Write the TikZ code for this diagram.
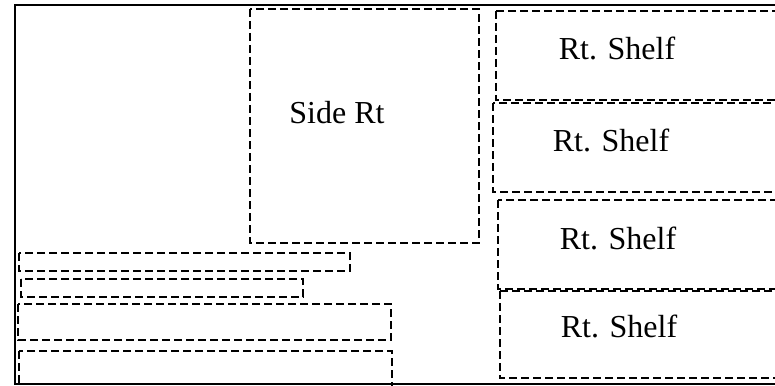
\documentclass[tikz,border=0pt]{standalone}
\usepackage{fontspec}
\setmainfont{Liberation Serif}
\usepackage{tikz}
\tikzset{%
  sheet/.style = {draw,solid,line width=2pt},
  part/.style = {draw,line width=1.8pt,dash pattern=on 8pt off 4pt},
  lbl/.style = {inner sep=0pt,font=\fontsize{32}{36}\selectfont}
}
\begin{document}
\begin{tikzpicture}[x=1pt,y=-1pt]
                            \clip (0,0) rectangle (775,385);
                            \fill[white] (0,0) rectangle (775,385);
                            % sheet
                            \draw[sheet] (15,5) rectangle (795,384);
                            % side
                            \draw[part] (250,9) rectangle (479,243);
                            \node[lbl] (side) at (337,113) {Side Rt};
                            % shelves
                            \draw[part] (496,11) rectangle (795,100);
                            \node[lbl] (shelfa) at (617,48) {Rt. Shelf};
                            \draw[part] (493,103) rectangle (795,192);
                            \node[lbl] (shelfb) at (611,140) {Rt. Shelf};
                            \draw[part] (498,200) rectangle (795,289);
                            \node[lbl] (shelfc) at (618,238) {Rt. Shelf};
                            \draw[part] (500,291) rectangle (795,378);
                            \node[lbl] (shelfd) at (619,326) {Rt. Shelf};
                            % strips
                            \draw[part] (19,253) rectangle (350,271);
                            \draw[part] (21,279) rectangle (303,297);
                            \draw[part] (18,304) rectangle (391,340);
                            \draw[part] (19,351) rectangle (392,400);
                        \end{tikzpicture}
\end{document}
